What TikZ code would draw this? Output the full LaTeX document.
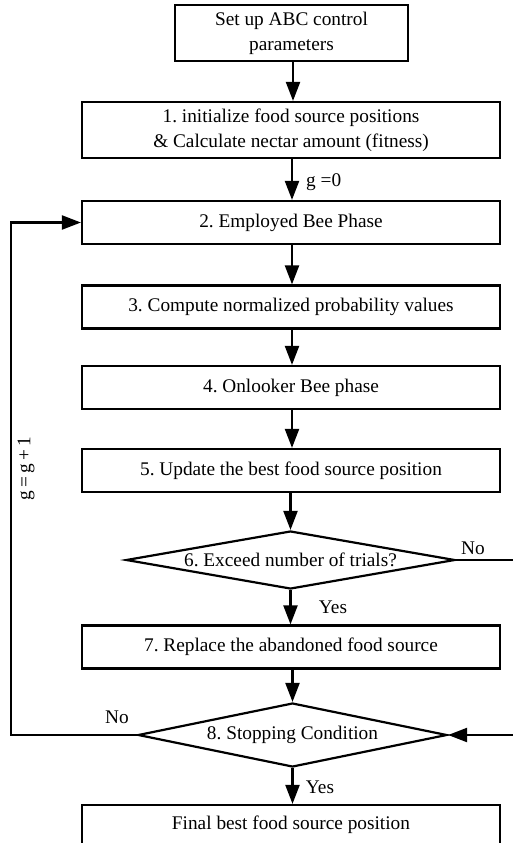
\documentclass[tikz,border=0pt]{standalone}
\usepackage{fontspec}
\setmainfont{Liberation Serif}
\usetikzlibrary{shapes.geometric,arrows.meta}
\begin{document}
\frenchspacing
\begin{tikzpicture}[x=1pt,y=-1pt,
  every node/.style={font=\fontsize{19.3}{25}\selectfont},
  box/.style={draw,line width=2.2pt,rectangle,inner sep=0pt,align=center},
  dia/.style={draw,line width=2.2pt,diamond,inner sep=0pt,align=center},
  lbl/.style={inner sep=0pt},
  conn/.style={line width=2.2pt,-{Triangle[length=19pt,width=14pt]}}]
\useasboundingbox (0,0) rectangle (512,843);
\node[box,minimum width=233pt,minimum height=56pt] (b0) at (291.5,33) {Set up ABC control\\parameters};
\node[box,minimum width=418pt,minimum height=56pt] (b1) at (291,130) {1. initialize food source positions\\\& Calculate nectar amount (fitness)};
\node[box,minimum width=418pt,minimum height=43pt] (b2) at (291,222.5) {2. Employed Bee Phase};
\node[box,minimum width=418pt,minimum height=43pt] (b3) at (291,307) {3. Compute normalized probability values};
\node[box,minimum width=418pt,minimum height=43pt] (b4) at (291,387.5) {4. Onlooker Bee phase};
\node[box,minimum width=418pt,minimum height=43pt] (b5) at (291,470.5) {5. Update the best food source position};
\node[dia,aspect=5.67,minimum width=329pt,minimum height=58pt] (d6) at (290.5,560) {6. Exceed number of trials?};
\node[box,minimum width=418pt,minimum height=43pt] (b7) at (291,647) {7. Replace the abandoned food source};
\node[dia,aspect=4.83,minimum width=309pt,minimum height=64pt] (d8) at (292.5,735) {8. Stopping Condition};
\node[box,minimum width=418pt,minimum height=50pt] (b9) at (291,830) {};
\node[lbl] (t9) at (291,825) {Final best food source position};

\draw[conn] (b0.south -| 293,0) -- (b1.north -| 293,0);
\draw[conn] (b1.south -| 292,0) -- (b2.north -| 292,0);
\draw[conn] (b2.south -| 292,0) -- (b3.north -| 292,0);
\draw[conn] (b3.south -| 292,0) -- (b4.north -| 292,0);
\draw[conn] (b4.south -| 292,0) -- (b5.north -| 292,0);
\draw[conn] (b5.south -| d6.north) -- (d6.north);
\draw[conn] (d6.south) -- (b7.north -| d6.south);
\draw[conn] (b7.south -| d8.north) -- (d8.north);
\draw[conn] (d8.south) -- (b9.north -| d8.south);

\coordinate (lt) at (11,735);
\coordinate (lb) at (11,222.5);
\draw[conn] (d8.west) -- (lt) -- (lb) -- (b2.west);
\coordinate (rt) at (525,560);
\coordinate (rb) at (525,735);
\draw[conn] (d6.east) -- (rt) -- (rb) -- (d8.east);

\node[lbl,anchor=west] (g0) at (306,182) {g =0};
\node[lbl,rotate=90] (g1) at (26,469) {g\,=\,g\,+\,1};
\node[lbl] (no6) at (473,548) {No};
\node[lbl] (yes6) at (333,607) {Yes};
\node[lbl] (no8) at (117,717) {No};
\node[lbl] (yes8) at (320,787) {Yes};
\end{tikzpicture}
\end{document}
